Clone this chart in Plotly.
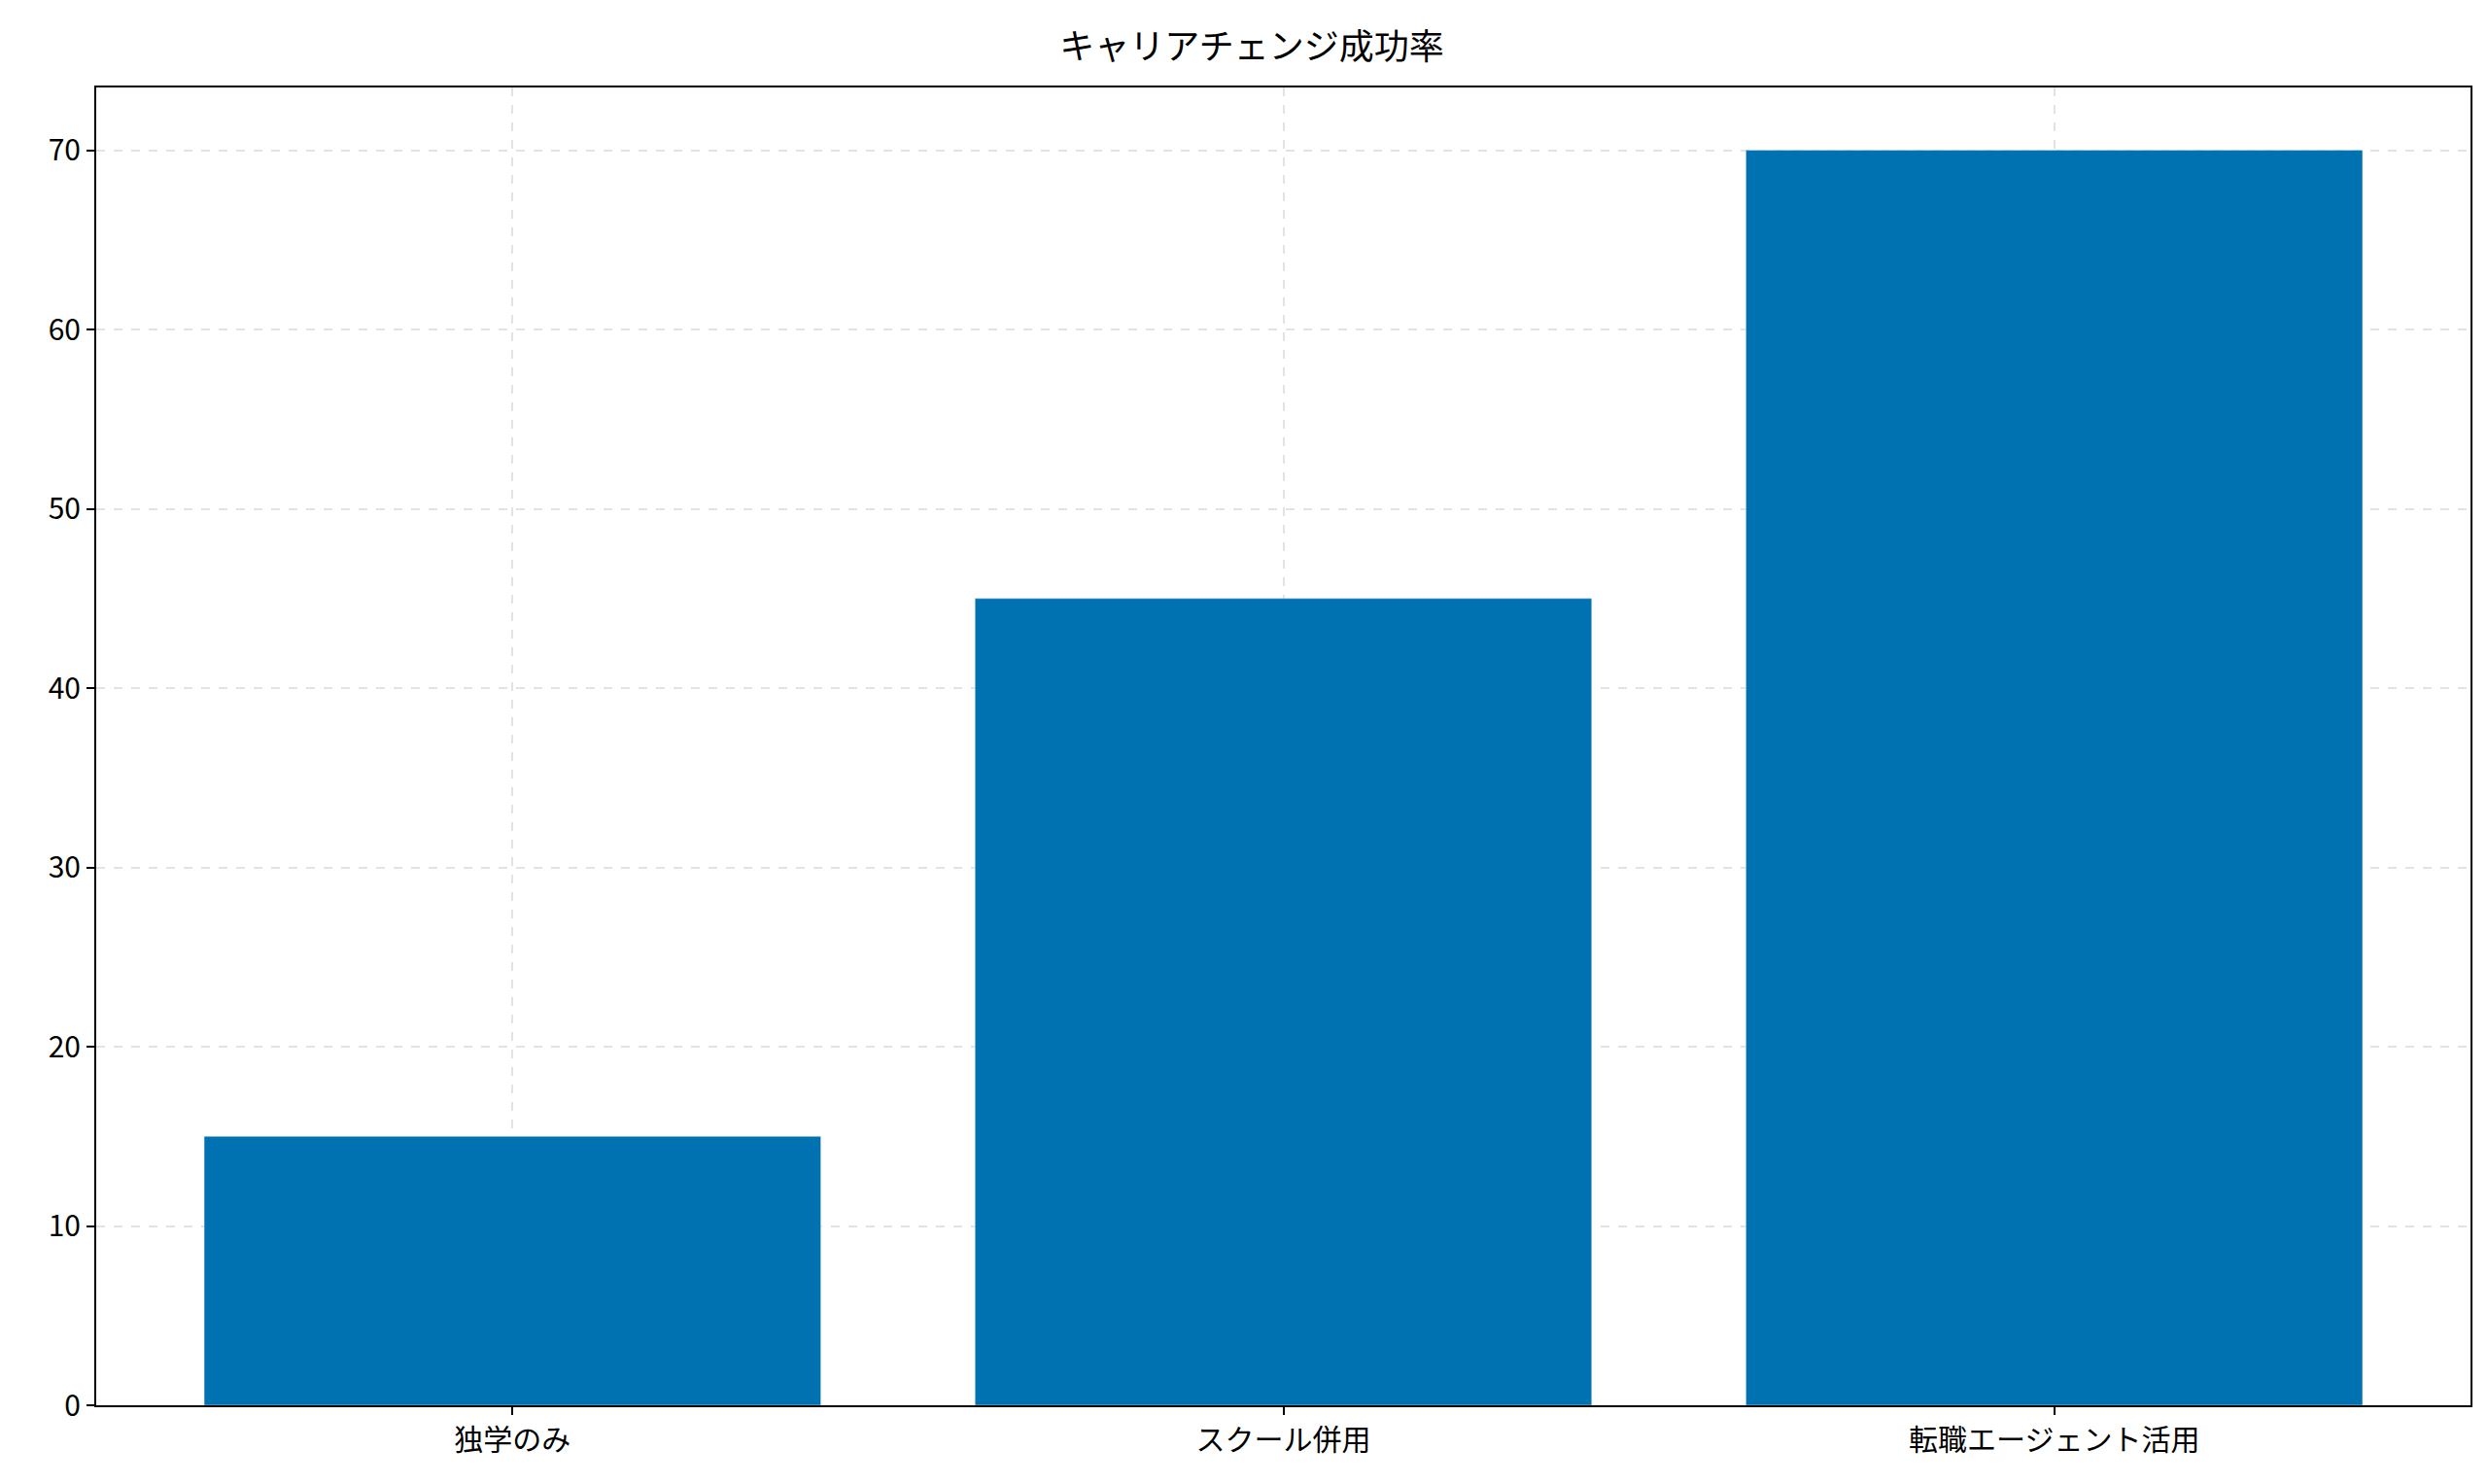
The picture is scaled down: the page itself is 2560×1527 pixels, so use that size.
import plotly.graph_objects as go

categorias = ["独学のみ", "スクール併用", "転職エージェント活用"]
tasas = [15, 45, 70]

fig = go.Figure([go.Bar(x=categorias, y=tasas, marker_color="#0072B2", width=0.8)])

ejes = dict(showline=True, linecolor="black", linewidth=2, mirror=True,
            ticks="outside", ticklen=8, tickwidth=2, tickcolor="black",
            showgrid=True, gridcolor="rgba(200,200,200,0.5)", griddash="dash", gridwidth=2,
            tickfont=dict(size=30, color="black"), zeroline=False)

fig.update_layout(
    width=2560, height=1527,
    paper_bgcolor="white", plot_bgcolor="white",
    font=dict(family="Noto Sans CJK JP"),
    title=dict(text="キャリアチェンジ成功率", x=0.5, xanchor="center", y=0.982, yanchor="top",
               font=dict(size=36, color="black")),
    margin=dict(l=91, r=26, t=82, b=89),
    showlegend=False,
)
fig.update_xaxes(ejes, range=[-0.54, 2.54])
fig.update_yaxes(ejes, range=[0, 73.5], dtick=10)
# grid above bars like the reference
fig.update_layout(xaxis_layer="above traces", yaxis_layer="above traces")

fig.write_html("out.html")
